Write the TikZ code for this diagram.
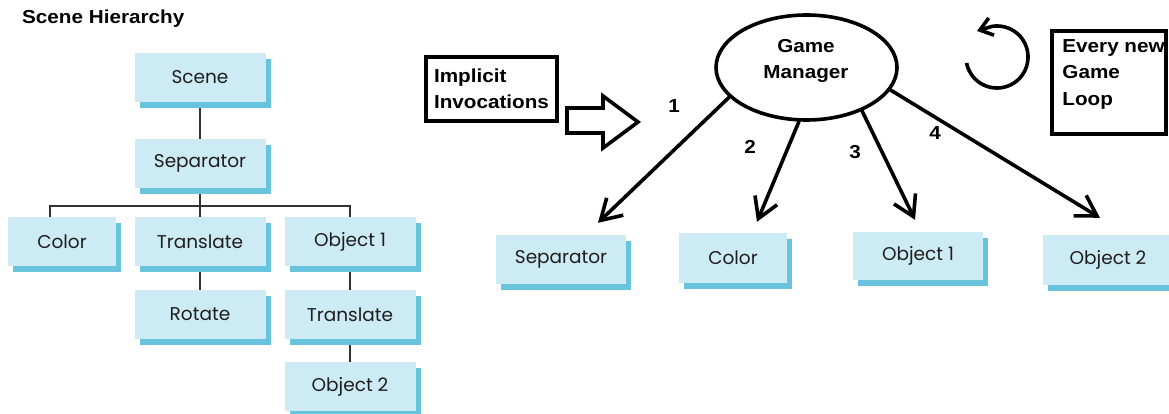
\documentclass[tikz,border=0pt]{standalone}
\usepackage{fontspec}
\setmainfont{Liberation Sans}
\newfontfamily\paintfont[FakeStretch=1.1]{Liberation Sans}
\newfontfamily\boxfont{Poppins}
\usetikzlibrary{arrows.meta,shapes.geometric,shadows,backgrounds}

\definecolor{ccdebf4}{RGB}{205,235,244}
\definecolor{c68c4dc}{RGB}{104,196,220}
\definecolor{c1e1e1e}{RGB}{30,30,30}
\definecolor{c333333}{RGB}{51,51,51}

\tikzset{
  treebox/.style={fill=ccdebf4, text=c1e1e1e, minimum width=131pt,
    minimum height=49pt, inner sep=0pt,
    font=\boxfont\fontsize{18.5}{20}\selectfont,
    drop shadow={shadow xshift=5pt, shadow yshift=-6pt, fill=c68c4dc, opacity=1}},
  treeline/.style={draw=c333333, line width=1.3pt},
  painttext/.style={font=\paintfont\bfseries\fontsize{18.8}{26.5}\selectfont,
    align=left, inner sep=0pt},
  paintbox/.style={draw=black, line width=3.6pt, inner sep=0pt},
  call/.style={draw=black, line width=3.6pt, line cap=round,
    -{Straight Barb[length=20pt,width=24pt]}},
}

\begin{document}
\begin{tikzpicture}[x=1pt, y=-1pt]
  \path[use as bounding box] (0,0) rectangle (1169,414);
  \clip (0,0) rectangle (1169,414);

  % left: the scene tree
  \node[painttext, anchor=west] (title) at (22,19) {Scene Hierarchy};
  \node[treebox] (lscene) at (200,77.5) {Scene};
  \node[treebox] (lsep) at (200,163.5) {Separator};
  \node[treebox, minimum width=108pt] (lcolor) at (62,241.5) {Color};
  \node[treebox] (ltrans) at (200,241.5) {Translate};
  \node[treebox] (lobj1) at (350,241.5) {Object 1};
  \node[treebox] (lrot) at (200,314.5) {Rotate};
  \node[treebox] (ltrans2) at (350,314.5) {Translate};
  \node[treebox] (lobj2) at (350,386.5) {Object 2};
  \coordinate (bus) at (200,206);
  \coordinate (colordrop) at ([xshift=-12pt]lcolor.north);
  \begin{scope}[on background layer]
    \draw[treeline] (lscene) -- (lsep);
    \draw[treeline] (lsep.south) |- (colordrop |- bus) -- (colordrop);
    \draw[treeline] (lsep.south) |- (lobj1.north |- bus) -- (lobj1.north);
    \draw[treeline] (lsep) -- (ltrans);
    \draw[treeline] (ltrans) -- (lrot);
    \draw[treeline] (lobj1) -- (ltrans2);
    \draw[treeline] (ltrans2) -- (lobj2);
  \end{scope}

  % right: the game manager
  \node[paintbox, minimum width=131pt, minimum height=64pt] (implicit)
    at (491.5,89) {};
  \node[painttext] (implicittext) at (implicit) {Implicit\\Invocations};
  \draw[paintbox, line join=miter] (567,108) -- (603,108) -- (603,96) --
    (638,122) -- (603,148) -- (603,133) -- (567,133) -- cycle;
  \node[ellipse, paintbox, minimum width=181pt, minimum height=105pt] (gm)
    at (806.5,67.5) {};
  \node[painttext, align=center] (gmtext) at (806,61) {Game\\Manager};
  % loop sign
  \coordinate (looptip) at (977,31);
  \draw[line width=3.6pt, -{Straight Barb[length=12pt,width=18pt]}]
    plot[domain=191:460, samples=80] ({997+31*cos(\x)},{57-31*sin(\x)})
    -- (looptip);
  \node[paintbox, minimum width=114pt, minimum height=103pt] (loopbox)
    at (1109,82.5) {};
  \node[painttext, anchor=north west] (looptext)
    at ([shift={(12pt,-10pt)}]loopbox.north west) {Every new\\Game\\Loop};

  \node[treebox, minimum width=130pt] (rsep) at (561,259.5) {Separator};
  \node[treebox, minimum width=108pt, minimum height=50pt] (rcolor)
    at (733,258) {Color};
  \node[treebox, minimum width=130pt, minimum height=48pt] (robj1)
    at (918,256) {Object 1};
  \node[treebox, minimum width=130pt, minimum height=50pt] (robj2)
    at (1108,260) {Object 2};

  \draw[call] (gm.201) -- ([shift={(37pt,12pt)}]rsep.north);
  \draw[call] (gm.262) -- ([shift={(24pt,11pt)}]rcolor.north);
  \draw[call] (gm.322) -- ([shift={(-3pt,12pt)}]robj1.north);
  \draw[call] (gm.345) -- ([shift={(-8pt,17pt)}]robj2.north);
  \node[painttext] (num1) at (674,106) {1};
  \node[painttext] (num2) at (750,147) {2};
  \node[painttext] (num3) at (855,152) {3};
  \node[painttext] (num4) at (935,133) {4};
\end{tikzpicture}
\end{document}
